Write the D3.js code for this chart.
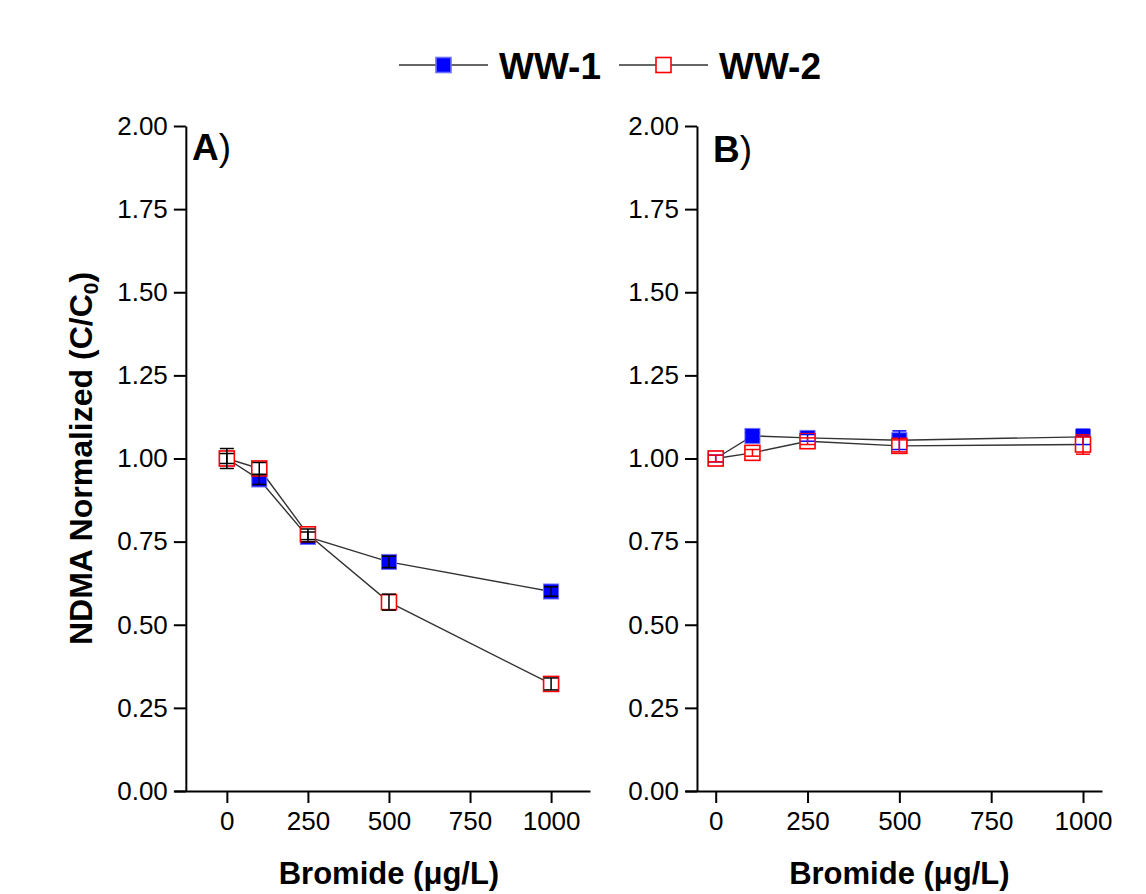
<!DOCTYPE html>
<html>
<head>
<meta charset="utf-8">
<script src="https://cdn.jsdelivr.net/npm/d3@7"></script>
<style>
  body { margin: 0; background: #fff; }
  svg { display: block; font-family: "Liberation Sans", Arial, sans-serif; }
</style>
</head>
<body>
<div id="chart"></div>
<script>
// data
const bromide = [0, 100, 250, 500, 1000];
const yTicks = [0, 0.25, 0.5, 0.75, 1.0, 1.25, 1.5, 1.75, 2.0];
const xTicks = [0, 250, 500, 750, 1000];
const seriesNames = ['WW-1', 'WW-2'];

const ww1A = [1.00, 0.937, 0.764, 0.689, 0.600];
const ww1AErr = [0.015, 0.015, 0.015, 0.017, 0.014];
const ww2A = [1.00, 0.970, 0.772, 0.568, 0.322];
const ww2AErr = [0.03, 0.018, 0.016, 0.024, 0.018];

const ww1B = [1.00, 1.068, 1.062, 1.055, 1.065];
const ww1BErr = [0.01, 0.01, 0.01, 0.028, 0.023];
const ww2B = [1.00, 1.017, 1.052, 1.038, 1.042];
const ww2BErr = [0.01, 0.01, 0.01, 0.018, 0.029];

const width = 1146, height = 894;
const plotTop = 126, plotBottom = 791;
const markerSize = 15;

const svg = d3.select('#chart')
	.append('svg')
	.attr('width', width)
	.attr('height', height);

svg.append('rect').attr('width', width).attr('height', height).attr('fill', '#fff');

const yScale = d3.scaleLinear().domain([0, 2]).range([plotBottom, plotTop]);

function drawPanel(p) {
	const xScale = d3.scaleLinear().domain(p.domain).range(p.range);
	const g = svg.append('g');
	const axisX = xScale(p.yAxisAt);

	// x axis
	const gx = g.append('g')
		.attr('transform', `translate(0,${plotBottom})`)
		.call(d3.axisBottom(xScale).tickValues(xTicks).tickFormat(d3.format('d')).tickSize(12).tickPadding(9).tickSizeOuter(0));
	gx.select('.domain').attr('stroke-width', 2);
	gx.selectAll('.tick line').attr('stroke-width', 2);
	gx.selectAll('.tick text').attr('font-size', 26).attr('fill', '#000');

	// y axis
	const gy = g.append('g')
		.attr('transform', `translate(${axisX},0)`)
		.call(d3.axisLeft(yScale).tickValues(yTicks).tickFormat(d3.format('.2f')).tickSize(12).tickPadding(6).tickSizeOuter(0));
	gy.select('.domain').attr('stroke-width', 2);
	gy.selectAll('.tick line').attr('stroke-width', 2);
	gy.selectAll('.tick text').attr('font-size', 26).attr('fill', '#000');

	const line = d3.line()
		.x((d, i) => xScale(bromide[i]))
		.y(d => yScale(d));

	[p.s1, p.s2].forEach(s => {
		g.append('path')
			.attr('d', line(s))
			.attr('fill', 'none')
			.attr('stroke', '#333')
			.attr('stroke-width', 1.4);
	});

	// WW-1 filled blue squares
	g.selectAll('.m1').data(p.s1).join('rect')
		.attr('x', (d, i) => xScale(bromide[i]) - markerSize / 2)
		.attr('y', d => yScale(d) - markerSize / 2)
		.attr('width', markerSize).attr('height', markerSize)
		.attr('fill', '#0000ff')
		.attr('stroke', '#6f6fff').attr('stroke-width', 1);

	// WW-2 open red squares
	g.selectAll('.m2').data(p.s2).join('rect')
		.attr('x', (d, i) => xScale(bromide[i]) - markerSize / 2)
		.attr('y', d => yScale(d) - markerSize / 2)
		.attr('width', markerSize).attr('height', markerSize)
		.attr('fill', '#fff')
		.attr('stroke', '#ff0000').attr('stroke-width', 1.6);

	// error bars on top
	[[p.s1, p.e1, p.c1], [p.s2, p.e2, p.c2]].forEach(([s, e, c]) => {
		s.forEach((v, i) => {
			const x = xScale(bromide[i]);
			const y0 = yScale(v - e[i]), y1 = yScale(v + e[i]);
			g.append('line').attr('x1', x).attr('x2', x).attr('y1', y0).attr('y2', y1)
				.attr('stroke', c).attr('stroke-width', 1.5);
			[y0, y1].forEach(yy => {
				g.append('line').attr('x1', x - 7).attr('x2', x + 7)
					.attr('y1', yy).attr('y2', yy)
					.attr('stroke', c).attr('stroke-width', 1.5);
			});
		});
	});

	// panel label
	const lab = g.append('text')
		.attr('x', p.labelX).attr('y', p.labelY)
		.attr('font-size', 37).attr('fill', '#000');
	lab.append('tspan').attr('font-weight', 'bold').text(p.label);
	lab.append('tspan').text(')');

	// x title
	g.append('text')
		.attr('x', xScale(500)).attr('y', 884)
		.attr('text-anchor', 'middle')
		.attr('font-size', 31).attr('font-weight', 'bold')
		.text('Bromide (\u03bcg/L)');
}

drawPanel({
	domain: [-163, 1120], range: [174, 590], yAxisAt: -126.5,
	s1: ww1A, e1: ww1AErr, c1: '#000',
	s2: ww2A, e2: ww2AErr, c2: '#000',
	label: 'A', labelX: 192, labelY: 160
});

drawPanel({
	domain: [-83.6, 1051.7], range: [685, 1102], yAxisAt: -51,
	s1: ww1B, e1: ww1BErr, c1: '#0000ff',
	s2: ww2B, e2: ww2BErr, c2: '#ff0000',
	label: 'B', labelX: 713, labelY: 162
});

// y title
const yt = svg.append('text')
	.attr('transform', `translate(92,${(plotTop + plotBottom) / 2}) rotate(-90)`)
	.attr('text-anchor', 'middle')
	.attr('font-size', 32).attr('font-weight', 'bold');
yt.append('tspan').text('NDMA Normalized (C/C');
yt.append('tspan').attr('font-size', 21).attr('dy', 6).text('0');
yt.append('tspan').attr('dy', -6).text(')');

// legend
const legend = [
	{ name: seriesNames[0], x0: 399, x1: 488, fill: '#0000ff', stroke: '#6f6fff', tx: 499 },
	{ name: seriesNames[1], x0: 619, x1: 708, fill: '#fff', stroke: '#ff0000', tx: 719 }
];
const ly = 65;
legend.forEach(l => {
	svg.append('line').attr('x1', l.x0).attr('x2', l.x1).attr('y1', ly).attr('y2', ly)
		.attr('stroke', '#666').attr('stroke-width', 2);
	const cx = (l.x0 + l.x1) / 2;
	svg.append('rect').attr('x', cx - markerSize / 2).attr('y', ly - markerSize / 2)
		.attr('width', markerSize).attr('height', markerSize)
		.attr('fill', l.fill).attr('stroke', l.stroke).attr('stroke-width', 1.6);
	svg.append('text').attr('x', l.tx).attr('y', 79)
		.attr('font-size', 37).attr('font-weight', 'bold').text(l.name);
});
</script>
</body>
</html>
